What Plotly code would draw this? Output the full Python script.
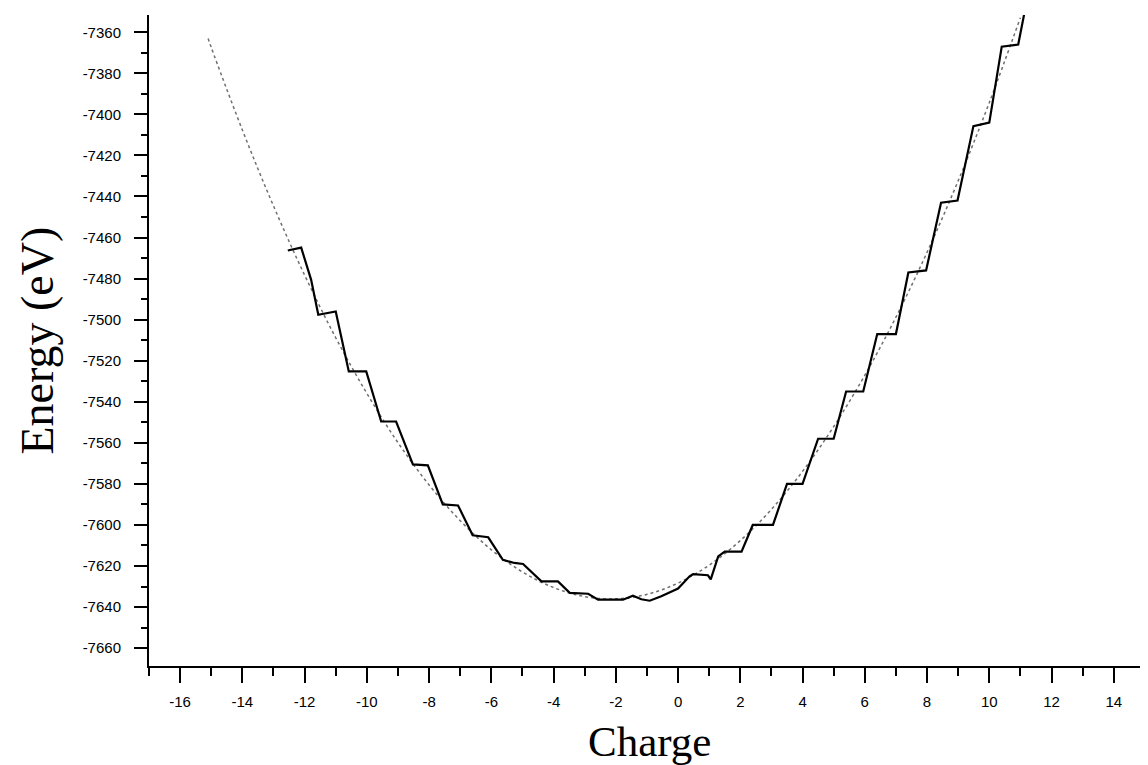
import plotly.graph_objects as go

# Smooth (dotted) fitted curve
charge_fit = [-15.1, -15, -14, -13, -12, -11, -10, -9, -8, -7, -6, -5, -4, -3, -2,
              -1, 0, 1, 2, 3, 4, 5, 6, 7, 8, 9, 10, 11]
energy_fit = [-7363.1, -7367.4, -7407.6, -7444.6, -7478.3, -7508.8, -7535.9, -7559.9,
              -7580.5, -7597.9, -7612.1, -7622.9, -7630.5, -7634.9, -7636.0,
              -7633.8, -7628.3, -7619.6, -7607.6, -7592.4, -7573.9, -7552.1,
              -7527.1, -7498.8, -7467.2, -7432.4, -7394.3, -7352.9]

# Staircase (solid) curve vertices
charge_data = [-12.54, -12.11, -11.79, -11.56, -11.0, -10.58, -10.02, -9.54, -9.06,
               -8.52, -8.04, -7.56, -7.07, -6.6, -6.1, -5.63, -5.26, -4.98, -4.39,
               -3.86, -3.48, -2.89, -2.57, -1.77, -1.45, -1.18, -0.91, -0.54, 0.0,
               0.37, 0.48, 0.96, 1.05, 1.29, 1.5, 2.04, 2.4, 3.05, 3.5, 4.0, 4.5,
               5.0, 5.4, 5.95, 6.4, 7.0, 7.4, 7.97, 8.45, 8.98, 9.49, 10.0, 10.4,
               10.93, 11.13]
energy_data = [-7466.3, -7464.9, -7480.6, -7497.6, -7496.0, -7525.2, -7525.2, -7549.6,
               -7549.6, -7570.5, -7571.0, -7590.0, -7590.5, -7605.0, -7606.0, -7617.0,
               -7618.5, -7619.0, -7627.5, -7627.5, -7633.1, -7633.5, -7636.4, -7636.4,
               -7634.5, -7636.2, -7636.9, -7634.7, -7631.0, -7625.0, -7624.0, -7624.5,
               -7626.5, -7615.3, -7613.0, -7613.0, -7600.0, -7600.0, -7580.0, -7580.0,
               -7558.0, -7558.0, -7535.0, -7535.0, -7507.0, -7507.0, -7477.0, -7476.0,
               -7443.0, -7442.0, -7405.7, -7404.0, -7367.0, -7366.0, -7350.5]

x_ticks = list(range(-16, 15, 2))
x_ticklabels = [str(v) for v in x_ticks]
y_ticks = list(range(-7660, -7359, 20))
y_ticklabels = [str(v) for v in y_ticks]

fig = go.Figure()
fig.add_trace(go.Scatter(x=charge_fit, y=energy_fit, mode="lines",
                         line=dict(color="#707070", width=1.5, dash="dot", shape="spline"),
                         showlegend=False, hoverinfo="skip"))
fig.add_trace(go.Scatter(x=charge_data, y=energy_data, mode="lines",
                         line=dict(color="black", width=2.2),
                         showlegend=False))

tick_font = dict(family="Liberation Sans, Arial, sans-serif", size=15, color="black")

fig.update_layout(
    width=1140, height=757,
    margin=dict(l=141, r=0, t=7, b=99),
    paper_bgcolor="white", plot_bgcolor="white",
    xaxis=dict(range=[-17.0, 15.1], showgrid=False, zeroline=False,
               showline=True, linecolor="black", linewidth=2,
               tickmode="array", tickvals=x_ticks, ticktext=x_ticklabels,
               ticks="outside", ticklen=15, tickwidth=2, tickcolor="black",
               ticklabelstandoff=6,
               minor=dict(ticks="outside", ticklen=8, tickwidth=2, tickcolor="black", dtick=1, tick0=-17),
               tickfont=tick_font),
    yaxis=dict(range=[-7668.7, -7351.6], showgrid=False, zeroline=False,
               showline=True, linecolor="black", linewidth=2,
               tickmode="array", tickvals=y_ticks, ticktext=y_ticklabels,
               ticks="outside", ticklen=13, tickwidth=2, tickcolor="black",
               ticklabelstandoff=10,
               minor=dict(ticks="outside", ticklen=6, tickwidth=2, tickcolor="black", dtick=10, tick0=-7670),
               tickfont=tick_font),
    annotations=[
        dict(text="Charge", xref="paper", yref="paper", x=0.5015, y=0,
             xanchor="center", yanchor="middle", yshift=-75, showarrow=False,
             font=dict(family="Liberation Serif, Times New Roman, serif", size=43, color="black")),
        dict(text="Energy (eV)", xref="paper", yref="paper", x=0, y=0.5,
             xanchor="center", yanchor="middle", xshift=-112, textangle=-90, showarrow=False,
             font=dict(family="Liberation Serif, Times New Roman, serif", size=46, color="black")),
    ],
)

fig.write_html("out.html")
